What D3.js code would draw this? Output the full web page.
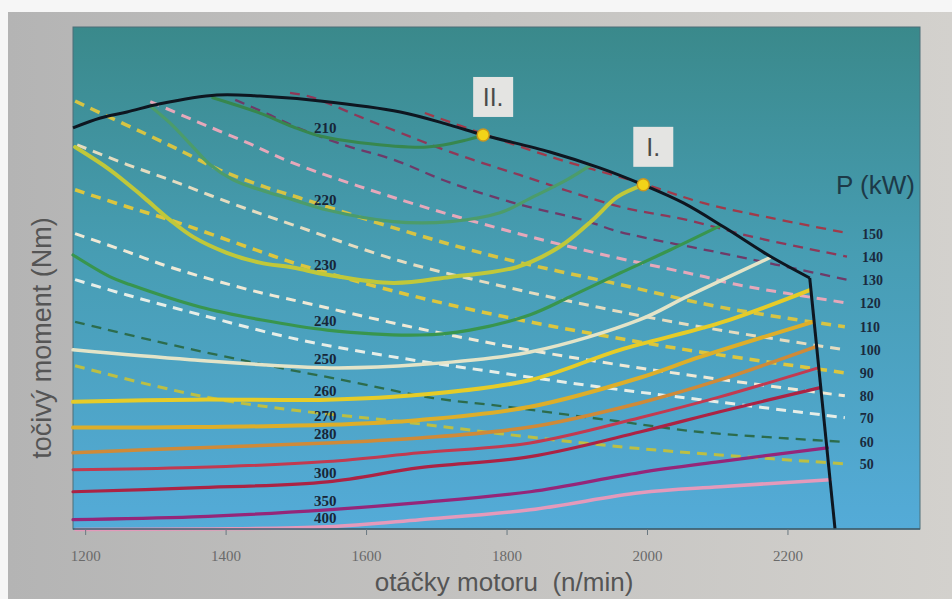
<!DOCTYPE html>
<html><head><meta charset="utf-8">
<script src="https://cdn.jsdelivr.net/npm/d3@7/dist/d3.min.js"></script>
<style>html,body{margin:0;padding:0;background:#fff;} svg{display:block}</style>
</head><body>
<svg id="chart" width="952" height="599"></svg>
<script>
// ---------- DATA (engine speed n/min, torque Nm) ----------
const rpmTicks = [1200, 1400, 1600, 1800, 2000, 2200];

// full-load (max torque) curve
const fullLoad = [[1182,822],[1221,840],[1259,851],[1306,866],[1387,882],[1448,880],[1534,871],[1648,851],[1719,827],[1766,809],[1861,778],[1932,749],[1994,718],[2051,685],[2110,640],[2174,588],[2231,548]];
const governorLine = [[2231,548],[2267,90]];

// specific fuel consumption contours (g/kWh)
const c210 = [[1381,877],[1448,849],[1495,824],[1534,807],[1591,795],[1686,787],[1743,800],[1766,809]];
const c220 = [[1292,862],[1320,831],[1353,787],[1377,755],[1410,727],[1448,709],[1495,691],[1544,672],[1638,651],[1719,651],[1790,667],[1837,696],[1885,727],[1918,753]];
const c230 = [[1185,787],[1235,745],[1282,696],[1320,654],[1353,623],[1401,594],[1448,576],[1495,567],[1544,554],[1638,539],[1719,550],[1814,568],[1875,605],[1922,654],[1957,696],[1994,718]];
const c240 = [[1182,590],[1235,550],[1263,536],[1363,495],[1448,472],[1544,453],[1676,444],[1747,453],[1833,481],[1890,514],[1961,557],[2032,599],[2103,643]];
const c250 = [[1182,417],[1349,399],[1548,384],[1676,390],[1833,413],[1989,472],[2056,514],[2174,585]];
const c260 = [[1182,322],[1353,326],[1544,326],[1676,335],[1833,362],[1961,417],[2103,466],[2231,526]];
const c270 = [[1182,275],[1353,276],[1544,280],[1676,289],[1833,313],[1989,366],[2075,404],[2236,468]];
const c280 = [[1182,229],[1353,238],[1544,247],[1676,256],[1833,276],[1989,320],[2103,362],[2238,422]];
const c290 = [[1182,198],[1353,202],[1544,213],[1676,229],[1833,247],[1989,293],[2103,331],[2243,384]];
const c300 = [[1182,158],[1353,165],[1544,176],[1676,202],[1833,222],[1989,267],[2103,304],[2246,348]];
const c350 = [[1182,107],[1353,112],[1544,125],[1676,138],[1833,158],[1989,193],[2103,213],[2256,238]];
const c400 = [[1186,89],[1363,90],[1544,94],[1676,107],[1833,125],[1989,156],[2103,167],[2260,180]];

const contourLevels = ["210","220","230","240","250","260","270","280","290","300","350","400"];
const contourData = [c210,c220,c230,c240,c250,c260,c270,c280,c290,c300,c350,c400];
const labeledLevels = ["210","220","230","240","250","260","270","280","300","350","400"];
const labelRpm = 1541;

// constant power lines (kW)
const p150 = [[1683,849],[1766,811],[1875,764],[1994,720],[2079,685],[2174,658],[2284,630]];
const p140 = [[1491,886],[1524,877],[1591,842],[1648,813],[1719,778],[1818,736],[1961,678],[2056,654],[2150,623],[2284,587]];
const p130 = [[1413,873],[1458,848],[1495,826],[1567,791],[1638,764],[1719,722],[1818,682],[1908,654],[1961,632],[2103,594],[2199,568],[2284,545]];
const p120 = [[1292,870],[1359,833],[1430,795],[1495,758],[1648,691],[1790,638],[1932,592],[2075,552],[2127,536],[2281,503]];
const p110 = [[1185,871],[1221,849],[1282,813],[1339,778],[1391,745],[1458,713],[1505,694],[1648,636],[1790,585],[1961,536],[2103,495],[2281,459]];
const p100 = [[1188,791],[1259,755],[1320,727],[1406,685],[1495,645],[1648,579],[1790,534],[1932,494],[2075,459],[2281,417]];
const p90  = [[1185,709],[1259,678],[1320,654],[1434,603],[1505,572],[1648,521],[1790,479],[1932,444],[2075,413],[2281,375]];
const p80  = [[1185,629],[1259,596],[1320,568],[1434,526],[1505,505],[1648,463],[1790,426],[1932,395],[2075,368],[2281,333]];
const p70  = [[1185,545],[1259,517],[1363,481],[1505,435],[1648,402],[1790,375],[1932,349],[2075,326],[2281,293]];
const p60  = [[1185,468],[1292,435],[1434,395],[1577,359],[1695,329],[1800,313],[1961,286],[2075,267],[2281,249]];
const p50  = [[1185,388],[1292,353],[1391,326],[1495,307],[1648,286],[1790,264],[1961,240],[2103,225],[2281,209]];
const powerLevels = [150,140,130,120,110,100,90,80,70,60,50];
const powerData = [p150,p140,p130,p120,p110,p100,p90,p80,p70,p60,p50];

const operatingPoints = [{name:"II.", rpm:1766, torque:809},{name:"I.", rpm:1994, torque:718}];

// ---------- STYLES ----------
const contourStyle = {
  "210":{color:"#37874e",width:3},
  "220":{color:"#4c9c6a",width:3.2},
  "230":{color:"#c0c83a",width:4},
  "240":{color:"#38954e",width:3.2},
  "250":{color:"#e3e4c8",width:3.5},
  "260":{color:"#e6cc28",width:4},
  "270":{color:"#ddae2a",width:4},
  "280":{color:"#cf8a38",width:3.5},
  "290":{color:"#c23a50",width:3},
  "300":{color:"#ab2344",width:3.2},
  "350":{color:"#952679",width:3.2},
  "400":{color:"#e49abb",width:3.5}
};
const powerStyle = {
  150:{color:"#a03a4a",width:2.3},
  140:{color:"#8e3858",width:2.3},
  130:{color:"#6e3a68",width:2.3},
  120:{color:"#e6a8ba",width:3},
  110:{color:"#d6c444",width:3.5},
  100:{color:"#e4dcc0",width:3},
  90:{color:"#dcc63e",width:3.5},
  80:{color:"#efe9d6",width:3},
  70:{color:"#e6eee8",width:3},
  60:{color:"#2c6c4c",width:2.3},
  50:{color:"#bcbf44",width:3}
};

// ---------- LAYOUT ----------
const W = 952, H = 599;
const plot = {left:73, right:920, top:27, bottom:529};
const x = d3.scaleLinear().domain([1182, 2388]).range([plot.left, plot.right]);
const y = d3.scaleLinear().domain([90, 1006]).range([plot.bottom, plot.top]);

const svg = d3.select("#chart");
const defs = svg.append("defs");
const gs = defs.append("linearGradient").attr("id","slide").attr("x1",0).attr("x2",1).attr("y1",0).attr("y2",0);
gs.append("stop").attr("offset","0").attr("stop-color","#b4b4b4");
gs.append("stop").attr("offset","1").attr("stop-color","#d3d1cd");
const gp = defs.append("linearGradient").attr("id","plotbg").attr("x1",0).attr("x2",0).attr("y1",0).attr("y2",1);
gp.append("stop").attr("offset","0").attr("stop-color","#3a898b");
gp.append("stop").attr("offset","0.45").attr("stop-color","#479db3");
gp.append("stop").attr("offset","1").attr("stop-color","#54abd8");

svg.append("rect").attr("width",W).attr("height",H).attr("fill","#f6f6f6");
svg.append("rect").attr("x",8).attr("y",12).attr("width",W-8).attr("height",H-12).attr("fill","url(#slide)");
svg.append("rect").attr("x",plot.left).attr("y",plot.top)
  .attr("width",plot.right-plot.left).attr("height",plot.bottom-plot.top)
  .attr("fill","url(#plotbg)").attr("stroke","#4d6f78").attr("stroke-width",1);

const line = d3.line().x(d=>x(d[0])).y(d=>y(d[1])).curve(d3.curveCatmullRom.alpha(0.5));

// power lines
const gPow = svg.append("g");
powerLevels.forEach((p,i)=>{
  const st = powerStyle[p];
  gPow.append("path").attr("d", line(powerData[i])).attr("fill","none")
    .attr("stroke",st.color).attr("stroke-width",st.width)
    .attr("stroke-dasharray","10,7").attr("stroke-linecap","butt");
  const last = powerData[i][powerData[i].length-1];
  gPow.append("text").attr("x", x(last[0])+15).attr("y", y(last[1])+1)
    .attr("dominant-baseline","central")
    .attr("font-family","'Liberation Serif','Times New Roman',serif")
    .attr("font-weight","bold").attr("font-size",14).attr("fill","#1a2a3e")
    .text(p);
});

// contours
const gC = svg.append("g");
contourLevels.forEach((lv,i)=>{
  const st = contourStyle[lv];
  gC.append("path").attr("d", line(contourData[i])).attr("fill","none")
    .attr("stroke",st.color).attr("stroke-width",st.width).attr("stroke-linecap","round");
});

// contour labels
function valueAt(pts, n){
  for(let k=0;k<pts.length-1;k++){
    const a=pts[k], b=pts[k+1];
    if(n>=a[0] && n<=b[0]){ const t=(n-a[0])/(b[0]-a[0]); return a[1]+t*(b[1]-a[1]); }
  }
  return pts[0][1];
}
labeledLevels.forEach(lv=>{
  const pts = contourData[contourLevels.indexOf(lv)];
  gC.append("text").attr("x", x(labelRpm)).attr("y", y(valueAt(pts,labelRpm))-9)
    .attr("text-anchor","middle").attr("dominant-baseline","central")
    .attr("font-family","'Liberation Serif','Times New Roman',serif")
    .attr("font-weight","bold").attr("font-size",15).attr("fill","#172638")
    .text(lv);
});

// full load curve
svg.append("path").attr("d", line(fullLoad)).attr("fill","none")
  .attr("stroke","#0e1620").attr("stroke-width",3).attr("stroke-linejoin","round");
svg.append("path").attr("d", d3.line().x(d=>x(d[0])).y(d=>y(d[1]))(governorLine)).attr("fill","none")
  .attr("stroke","#0e1620").attr("stroke-width",3);

// operating points
operatingPoints.forEach(p=>{
  const px=x(p.rpm), py=y(p.torque);
  svg.append("rect").attr("x",px-10).attr("y",py-58).attr("width",40).attr("height",40)
    .attr("fill","#e4e4e2");
  svg.append("text").attr("x",px+10).attr("y",py-38).attr("text-anchor","middle")
    .attr("dominant-baseline","central")
    .attr("font-family","'Liberation Sans',Arial,sans-serif").attr("font-size",25)
    .attr("fill","#4a4a4a").text(p.name);
  svg.append("circle").attr("cx",px).attr("cy",py).attr("r",6)
    .attr("fill","#f2d418").attr("stroke","#c8961e").attr("stroke-width",1.5);
});

// P (kW)
svg.append("text").attr("x",836).attr("y",194)
  .attr("font-family","'Liberation Sans',Arial,sans-serif").attr("font-size",26)
  .attr("fill","#1d3a48").text("P (kW)");

// x axis
svg.append("line").attr("x1",plot.left).attr("x2",plot.right).attr("y1",plot.bottom).attr("y2",plot.bottom)
  .attr("stroke","#3e5f70").attr("stroke-width",1.5);
const gx = svg.append("g");
rpmTicks.forEach(t=>{
  gx.append("line").attr("x1",x(t)).attr("x2",x(t)).attr("y1",plot.bottom).attr("y2",plot.bottom+6)
    .attr("stroke","#6a7880").attr("stroke-width",1);
  gx.append("text").attr("x",x(t)).attr("y",556).attr("text-anchor","middle")
    .attr("dominant-baseline","central")
    .attr("font-family","'Liberation Serif','Times New Roman',serif").attr("font-size",15)
    .attr("fill","#6a6a6a").text(t);
});

svg.append("text").attr("x",504).attr("y",591).attr("text-anchor","middle")
  .attr("font-family","'Liberation Sans',Arial,sans-serif").attr("font-size",26)
  .attr("fill","#555").attr("xml:space","preserve").text("otáčky motoru  (n/min)");

svg.append("text").attr("transform","translate(51,338) rotate(-90)").attr("text-anchor","middle")
  .attr("font-family","'Liberation Sans',Arial,sans-serif").attr("font-size",27)
  .attr("fill","#555").text("točivý moment (Nm)");
</script>
</body></html>
